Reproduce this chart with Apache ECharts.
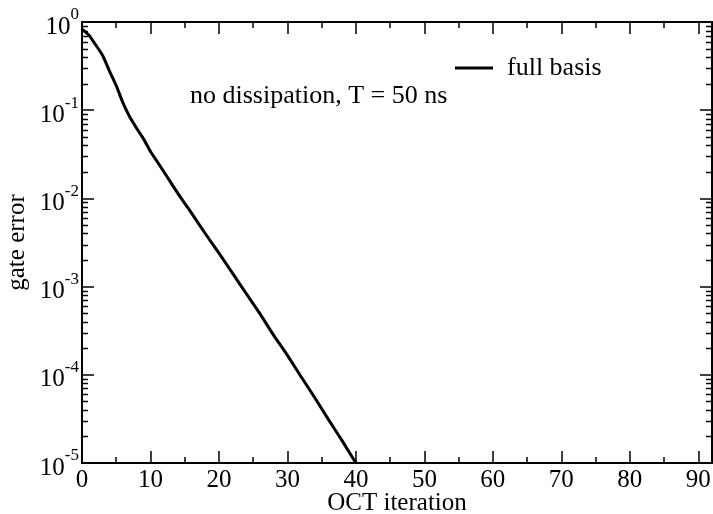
<!DOCTYPE html>
<html>
<head>
<meta charset="utf-8">
<script src="https://cdn.jsdelivr.net/npm/echarts@6/dist/echarts.min.js"></script>
<style>
  html, body { margin: 0; padding: 0; background: #fff; }
  #chart { width: 713px; height: 514px; }
</style>
</head>
<body>
<div id="chart"></div>
<script>
// OCT convergence
const iterations = [0, 1, 2, 3, 4, 5, 6, 7, 8, 9, 10, 11, 12, 13, 14, 15, 16, 18, 20, 22, 24, 26, 28, 30, 32, 34, 36, 38, 40];
const gateError = [0.83, 0.71, 0.55, 0.42, 0.28, 0.19, 0.12, 0.083, 0.062, 0.047, 0.034, 0.026, 0.0198, 0.0150, 0.0114, 0.0088,
  0.0068, 0.0040, 0.0024, 0.00141, 8.3e-4, 4.9e-4, 2.8e-4, 1.66e-4, 9.5e-5, 5.5e-5, 3.1e-5, 1.78e-5, 1.0e-5];

const xMajorTicks = [0, 10, 20, 30, 40, 50, 60, 70, 80, 90];
const xMinorTicks = [5, 15, 25, 35, 45, 55, 65, 75, 85];
const yDecades = [1e-5, 1e-4, 1e-3, 1e-2, 1e-1];
const minorMultipliers = [2, 3, 4, 5, 6, 7, 8, 9];
const yMinorTicks = [];
yDecades.forEach(d => minorMultipliers.forEach(k => yMinorTicks.push(k * d)));

const FONT = '"Liberation Serif", "DejaVu Serif", serif';
const INK = '#000';

const chart = echarts.init(document.getElementById('chart'), null, { renderer: 'canvas' });

function xAxis(pos, ticks, len, opts) {
  return Object.assign({
    type: 'value', position: pos, min: 0, max: 92,
    axisLine: { show: false, onZero: false },
    axisTick: { show: true, inside: true, length: len, customValues: ticks, lineStyle: { color: INK, width: 1.5 } },
    axisLabel: { show: false },
    splitLine: { show: false }
  }, opts || {});
}

function yLogAxis(pos, opts) {
  return Object.assign({
    type: 'log', logBase: 10, position: pos, min: 1e-5, max: 1,
    axisLine: { show: true, onZero: false, lineStyle: { color: INK, width: 2 } },
    axisTick: { show: true, inside: true, length: 12, lineStyle: { color: INK, width: 1.5 } },
    axisLabel: { show: false },
    splitLine: { show: false }
  }, opts || {});
}

const option = {
  backgroundColor: '#fff',
  animation: false,
  grid: { left: 82, right: 1, top: 22, bottom: 51, containLabel: false, outerBoundsMode: 'none' },
  legend: {
    left: 455, top: 55, padding: 0,
    itemWidth: 38, itemHeight: 3, icon: 'rect',
    data: ['full basis'],
    textStyle: { fontFamily: FONT, fontSize: 26, color: INK, padding: [0, 0, 0, 9] }
  },
  xAxis: [
    xAxis('bottom', xMajorTicks, 12, {
      axisLine: { show: true, onZero: false, lineStyle: { color: INK, width: 2 } },
      axisLabel: { show: true, customValues: xMajorTicks, margin: 5, fontFamily: FONT, fontSize: 25, color: INK },
      name: 'OCT iteration', nameLocation: 'middle', nameGap: 28, nameMoveOverlap: false,
      nameTextStyle: { fontFamily: FONT, fontSize: 25, color: INK }
    }),
    xAxis('bottom', xMinorTicks, 6),
    xAxis('top', xMajorTicks, 12, { axisLine: { show: true, onZero: false, lineStyle: { color: INK, width: 2 } } }),
    xAxis('top', xMinorTicks, 6)
  ],
  yAxis: [
    yLogAxis('left', {
      axisLabel: {
        show: true, margin: 3, color: INK,
        formatter: v => '{b|10}{s|' + Math.round(Math.log10(v)) + '}',
        rich: {
          b: { fontFamily: FONT, fontSize: 25, color: INK, verticalAlign: 'bottom', padding: [10, 0, 0, 0] },
          s: { fontFamily: FONT, fontSize: 17, color: INK, verticalAlign: 'top', padding: [2, 0, 4, 0] }
        }
      },
      name: 'gate error', nameLocation: 'middle', nameGap: 52, nameRotate: 90, nameMoveOverlap: false,
      nameTextStyle: { fontFamily: FONT, fontSize: 25, color: INK }
    }),
    yLogAxis('right')
  ],
  graphic: [{
    type: 'text', left: 190, top: 83,
    style: { text: 'no dissipation, T = 50 ns', font: '26px ' + FONT, fill: INK }
  }],
  series: [{
    name: 'full basis',
    type: 'line',
    xAxisIndex: 0, yAxisIndex: 0,
    data: iterations.map((x, i) => [x, gateError[i]]),
    showSymbol: false, symbol: 'none',
    smooth: 0.2,
    lineStyle: { color: INK, width: 3 },
    itemStyle: { color: INK }
  }, {
    // minor log ticks (2..9 x 10^n) on both vertical borders, placed by the log scale
    name: 'minor',
    type: 'custom',
    coordinateSystem: 'cartesian2d',
    xAxisIndex: 0, yAxisIndex: 0,
    silent: true, clip: false, z: 10,
    encode: { x: 0, y: 1 },
    data: yMinorTicks.map(v => [0, v]),
    renderItem: function (params, api) {
      const pt = api.coord([api.value(0), api.value(1)]);
      const y = Math.round(pt[1]) + 0.5;
      const left = pt[0];
      const right = left + api.size([92, 0])[0];
      const style = { stroke: INK, lineWidth: 1.5 };
      return {
        type: 'group',
        children: [
          { type: 'line', shape: { x1: left, y1: y, x2: left + 6, y2: y }, style },
          { type: 'line', shape: { x1: right, y1: y, x2: right - 6, y2: y }, style }
        ]
      };
    }
  }]
};

chart.setOption(option);
</script>
</body>
</html>
